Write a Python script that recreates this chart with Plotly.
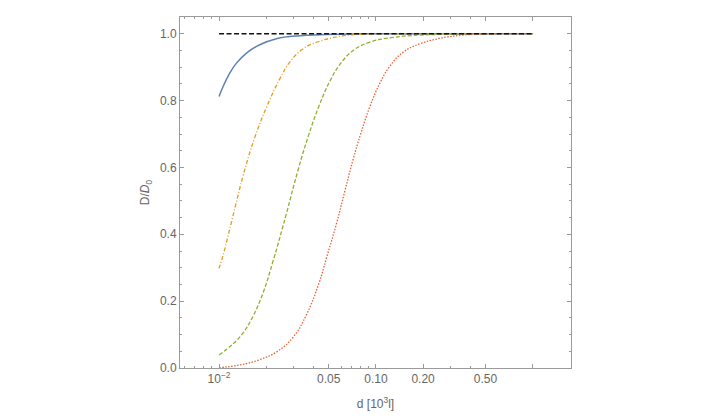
import plotly.graph_objects as go

# ---- data ----
blue_d = [0.0100, 0.01061, 0.01170, 0.01291, 0.01496, 0.01818, 0.02324, 0.03273, 0.04391, 0.0700, 0.1500, 1.0]
blue_v = [0.812, 0.842, 0.882, 0.912, 0.942, 0.967, 0.985, 0.994, 0.997, 0.999, 1.0, 1.0]

orange_d = [0.0100, 0.01051, 0.01265, 0.01423, 0.01690, 0.02007, 0.02440, 0.02826, 0.03436, 0.04283, 0.05891, 0.07906, 0.2000, 1.0]
orange_v = [0.298, 0.330, 0.480, 0.575, 0.690, 0.780, 0.865, 0.915, 0.955, 0.976, 0.992, 0.998, 1.0, 1.0]

green_d = [0.0100, 0.01228, 0.01423, 0.01648, 0.01909, 0.02211, 0.02692, 0.03192, 0.03698, 0.04346, 0.05087, 0.05891,
           0.07164, 0.09156, 0.1290, 0.1909, 0.2561, 0.5000, 1.0]
green_v = [0.039, 0.072, 0.105, 0.155, 0.225, 0.320, 0.463, 0.593, 0.692, 0.785, 0.858, 0.908,
           0.950, 0.975, 0.989, 0.996, 0.998, 1.0, 1.0]

red_d = [0.0100, 0.01355, 0.01818, 0.02324, 0.02967, 0.03613, 0.04346, 0.04846, 0.05614, 0.06343, 0.07164, 0.07991,
         0.09156, 0.1060, 0.1228, 0.1494, 0.1909, 0.2498, 0.2826, 0.3607, 0.4610, 1.0]
red_v = [0.001, 0.009, 0.025, 0.048, 0.092, 0.160, 0.255, 0.330, 0.433, 0.530, 0.625, 0.700,
         0.782, 0.852, 0.903, 0.945, 0.970, 0.985, 0.990, 0.996, 0.999, 1.0]

ref_d = [0.01, 1.0]
ref_v = [1.0, 1.0]

x_major = [0.01, 0.05, 0.1, 0.2, 0.5, 1.0]
x_major_text = ["10<sup>\u22122</sup>", "0.05", "0.10", "0.20", "0.50", ""]
x_minor = [0.006, 0.007, 0.008, 0.009, 0.02, 0.03, 0.04, 0.06, 0.07, 0.08, 0.09, 0.3, 0.4]
y_major = [0.0, 0.2, 0.4, 0.6, 0.8, 1.0]
y_major_text = ["0.0", "0.2", "0.4", "0.6", "0.8", "1.0"]

FONT = "Liberation Sans, Arial, sans-serif"
AXC = "#9a9a9a"
TXC = "#666666"

fig = go.Figure()
fig.add_trace(go.Scatter(x=blue_d, y=blue_v, mode="lines",
                         line=dict(color="#5E81B5", width=1.5, shape="spline", smoothing=1.2)))
fig.add_trace(go.Scatter(x=orange_d, y=orange_v, mode="lines",
                         line=dict(color="#E19C24", width=1.3, shape="spline", smoothing=1.2,
                                   dash="4px,2px,1px,2px")))
fig.add_trace(go.Scatter(x=green_d, y=green_v, mode="lines",
                         line=dict(color="#8FB032", width=1.3, shape="spline", smoothing=1.2,
                                   dash="4px,2px")))
fig.add_trace(go.Scatter(x=red_d, y=red_v, mode="lines",
                         line=dict(color="#EB6235", width=1.3, shape="spline", smoothing=1.2,
                                   dash="1.5px,1.5px")))
fig.add_trace(go.Scatter(x=ref_d, y=ref_v, mode="lines",
                         line=dict(color="#111111", width=1.6, dash="5px,2.5px")))

fig.update_layout(
    width=716, height=416,
    margin=dict(l=180, r=145, t=17, b=48),
    paper_bgcolor="white", plot_bgcolor="white",
    showlegend=False,
    font=dict(family=FONT, size=12, color=TXC),
)
fig.update_xaxes(
    type="log", range=[-2.249, 0.244], automargin=False,
    showgrid=False, zeroline=False,
    showline=True, linecolor=AXC, linewidth=1, mirror="ticks",
    ticks="inside", ticklen=4, tickcolor=AXC, tickwidth=1,
    tickmode="array", tickvals=x_major, ticktext=x_major_text,
    minor=dict(tickmode="array", tickvals=x_minor, ticks="inside", ticklen=2, tickcolor=AXC, showgrid=False),
    title=dict(text="d [10<sup>3</sup>l]", font=dict(size=12, color=TXC), standoff=14),
    tickfont=dict(size=12, color=TXC),
)
fig.update_yaxes(
    range=[0, 1.05], automargin=False,
    showgrid=False, zeroline=False,
    showline=True, linecolor=AXC, linewidth=1, mirror="ticks",
    ticks="inside", ticklen=4, tickcolor=AXC, tickwidth=1,
    tickmode="array", tickvals=y_major, ticktext=y_major_text,
    minor=dict(dtick=0.05, ticks="inside", ticklen=2, tickcolor=AXC, showgrid=False),
    title=dict(text="D/<i>D</i><sub>0</sub>", font=dict(size=12, color=TXC), standoff=7),
    tickfont=dict(size=12, color=TXC),
)

fig.write_html("out.html")
